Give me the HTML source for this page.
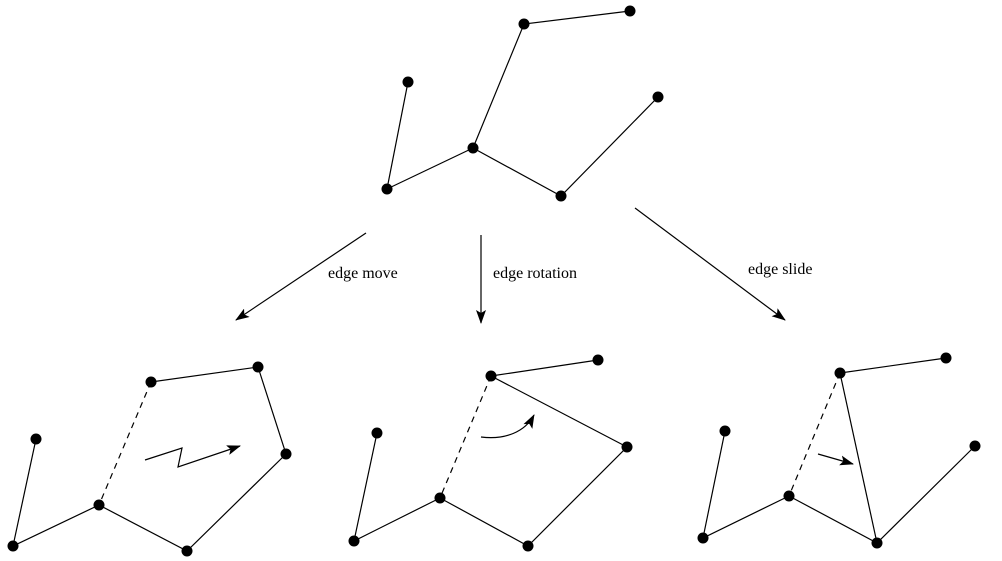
<!DOCTYPE html>
<html><head><meta charset="utf-8"><style>
html,body{margin:0;padding:0;background:#fff;}
svg{display:block;}
text{font-family:"Liberation Serif",serif;font-size:16px;fill:#000;}
</style></head><body>
<svg width="1002" height="561" viewBox="0 0 1002 561" xmlns="http://www.w3.org/2000/svg">
<defs>
<marker id="ah" markerWidth="14" markerHeight="10" refX="13" refY="5" orient="auto" markerUnits="userSpaceOnUse">
<path d="M0,0 L14,5 L0,10 L3,5 z" fill="#000"/>
</marker>
</defs>
<g stroke="#000" stroke-width="1.2" fill="none">
<!-- top -->
<polyline points="630,11 524,24 473,148 561,196 658,97"/>
<polyline points="408,82 387,189 473,148"/>
<!-- arrows -->
<line x1="366" y1="233" x2="236" y2="320" marker-end="url(#ah)"/>
<line x1="481" y1="235" x2="481" y2="323" marker-end="url(#ah)"/>
<line x1="635" y1="208" x2="785" y2="320" marker-end="url(#ah)"/>
<!-- bottom left -->
<polyline points="36,439 13,546 99,505 187,551 286,454 258,367 151,382"/>
<line x1="151" y1="382" x2="99" y2="505" stroke-dasharray="6,5"/>
<polyline points="145,460 182,448 178,467 240,446" marker-end="url(#ah)"/>
<!-- bottom middle -->
<polyline points="377,433 354,541 440,498 528,546 627,447 491,376 598,360"/>
<line x1="491" y1="376" x2="440" y2="498" stroke-dasharray="6,5"/>
<path d="M481,437 C505,440 525,432 534,415" marker-end="url(#ah)"/>
<!-- bottom right -->
<polyline points="725,431 703,538 789,496 877,543 975,446"/>
<polyline points="946,358 840,373 877,543"/>
<line x1="840" y1="373" x2="789" y2="496" stroke-dasharray="6,5"/>
<line x1="818" y1="454" x2="853" y2="464" marker-end="url(#ah)"/>
</g>
<g fill="#000">
<circle cx="524" cy="24" r="5.5"/><circle cx="630" cy="11" r="5.5"/><circle cx="408" cy="82" r="5.5"/><circle cx="473" cy="148" r="5.5"/><circle cx="387" cy="189" r="5.5"/><circle cx="561" cy="196" r="5.5"/><circle cx="658" cy="97" r="5.5"/>
<circle cx="36" cy="439" r="5.5"/><circle cx="13" cy="546" r="5.5"/><circle cx="99" cy="505" r="5.5"/><circle cx="187" cy="551" r="5.5"/><circle cx="286" cy="454" r="5.5"/><circle cx="258" cy="367" r="5.5"/><circle cx="151" cy="382" r="5.5"/>
<circle cx="377" cy="433" r="5.5"/><circle cx="354" cy="541" r="5.5"/><circle cx="440" cy="498" r="5.5"/><circle cx="528" cy="546" r="5.5"/><circle cx="627" cy="447" r="5.5"/><circle cx="491" cy="376" r="5.5"/><circle cx="598" cy="360" r="5.5"/>
<circle cx="725" cy="431" r="5.5"/><circle cx="703" cy="538" r="5.5"/><circle cx="789" cy="496" r="5.5"/><circle cx="877" cy="543" r="5.5"/><circle cx="975" cy="446" r="5.5"/><circle cx="840" cy="373" r="5.5"/><circle cx="946" cy="358" r="5.5"/>
</g>
<text x="328" y="278">edge move</text>
<text x="493" y="278">edge rotation</text>
<text x="748" y="274">edge slide</text>
</svg>
</body></html>
